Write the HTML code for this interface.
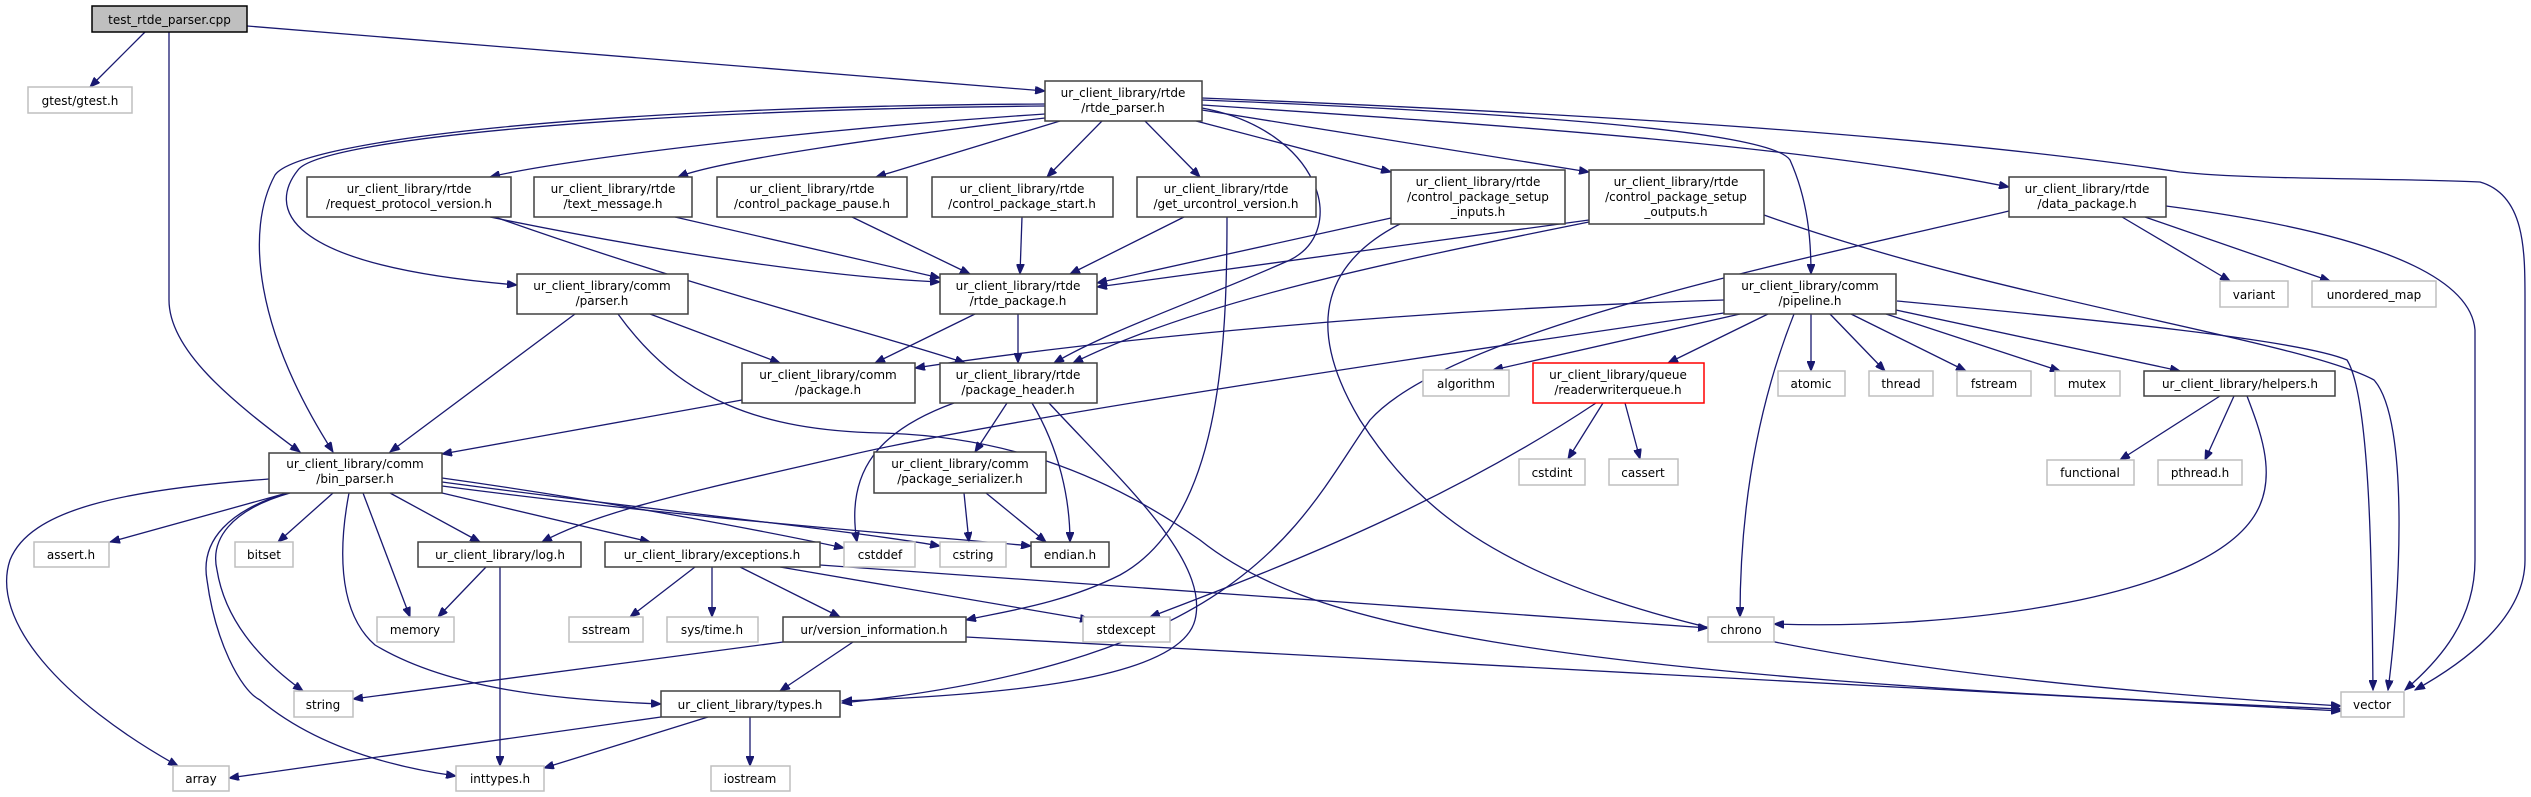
<!DOCTYPE html>
<html><head><meta charset="utf-8"><style>
html,body{margin:0;padding:0;background:#fff;}
svg{display:block;}
text{font-family:"DejaVu Sans","Liberation Sans",sans-serif;font-size:12px;fill:#000;text-anchor:middle;}
.e{fill:none;stroke:#191970;stroke-width:1.3;marker-end:url(#a);}
.b{fill:#fff;stroke:#404040;stroke-width:1.5;}
.g{fill:#fff;stroke:#bfbfbf;stroke-width:1.5;}
</style></head><body>
<svg width="2531" height="797" viewBox="0 0 2531 797" xmlns="http://www.w3.org/2000/svg">
<defs><marker id="a" markerWidth="11" markerHeight="8" refX="10" refY="4" orient="auto" markerUnits="userSpaceOnUse"><path d="M0,0 L10,4 L0,8 z" fill="#191970" stroke="#191970"/></marker></defs>
<g>
<path class="e" d="M145,32 L90,87"/>
<path class="e" d="M247,26 L1045,91"/>
<path class="e" d="M169,32 L169,300 C169,350 230,400 300,452"/>
<path class="e" d="M1045,104 C600,106 300,140 275,175 C245,230 255,330 333,452"/>
<path class="e" d="M1045,106 C620,110 320,140 298,170 C270,205 275,265 517,285"/>
<path class="e" d="M1045,114 C800,130 560,160 490,177"/>
<path class="e" d="M1045,118 C900,135 720,160 678,177"/>
<path class="e" d="M1060,121 L876,177"/>
<path class="e" d="M1102,121 L1047,177"/>
<path class="e" d="M1145,121 L1200,177"/>
<path class="e" d="M1196,121 L1391,172"/>
<path class="e" d="M1202,110 L1589,172"/>
<path class="e" d="M1202,105 C1500,125 1800,145 2009,187"/>
<path class="e" d="M1202,100 C1500,112 1770,130 1790,160 C1808,200 1811,240 1811,274"/>
<path class="e" d="M1202,98 C1500,110 1900,130 2180,172 C2250,180 2400,178 2480,182 C2525,195 2525,250 2525,300 L2525,560 C2525,620 2460,665 2415,690"/>
<path class="e" d="M1202,108 C1320,130 1350,230 1290,260 C1200,300 1110,330 1054,363"/>
<path class="e" d="M490,217 C700,260 850,278 940,282"/>
<path class="e" d="M495,217 C700,290 900,340 965,363"/>
<path class="e" d="M675,217 L940,278"/>
<path class="e" d="M852,217 L970,274"/>
<path class="e" d="M1022,217 L1020,274"/>
<path class="e" d="M1184,217 L1070,274"/>
<path class="e" d="M1227,217 C1227,350 1220,520 1120,575 C1060,605 1000,612 966,620"/>
<path class="e" d="M1391,218 L1097,283"/>
<path class="e" d="M1400,224 C1330,260 1300,320 1360,420 C1450,560 1600,660 2341,706"/>
<path class="e" d="M1589,220 L1097,287"/>
<path class="e" d="M1589,222 C1400,260 1200,300 1073,363"/>
<path class="e" d="M1764,215 C2000,300 2300,340 2374,380 C2410,420 2400,600 2388,690"/>
<path class="e" d="M1897,301 C2100,320 2300,340 2347,360 C2372,400 2372,600 2373,690"/>
<path class="e" d="M2122,217 L2230,281"/>
<path class="e" d="M2145,217 L2330,281"/>
<path class="e" d="M2166,206 C2350,230 2470,270 2475,330 L2475,560 C2475,620 2440,660 2405,690"/>
<path class="e" d="M2009,211 C1800,260 1450,330 1370,420 C1300,520 1250,660 842,703"/>
<path class="e" d="M650,314 L780,363"/>
<path class="e" d="M575,314 L390,452"/>
<path class="e" d="M618,314 C680,400 760,430 880,433 C1000,436 1100,470 1200,540 C1300,620 1500,675 2341,709"/>
<path class="e" d="M975,314 L875,363"/>
<path class="e" d="M1018,314 L1018,363"/>
<path class="e" d="M742,400 L442,454"/>
<path class="e" d="M1007,403 L975,452"/>
<path class="e" d="M954,403 C880,430 845,470 857,542"/>
<path class="e" d="M1032,403 C1060,450 1070,500 1070,542"/>
<path class="e" d="M1049,403 C1120,480 1210,560 1195,620 C1180,680 1000,695 842,701"/>
<path class="e" d="M964,493 L969,542"/>
<path class="e" d="M986,493 L1046,542"/>
<path class="e" d="M1724,300 C1400,310 1100,340 915,368"/>
<path class="e" d="M1724,313 C1400,360 1000,420 850,455 C700,490 600,510 542,542"/>
<path class="e" d="M1740,314 L1493,370"/>
<path class="e" d="M1768,314 L1668,363"/>
<path class="e" d="M1794,314 C1760,400 1740,500 1740,617"/>
<path class="e" d="M1811,314 L1811,371"/>
<path class="e" d="M1830,314 L1885,371"/>
<path class="e" d="M1851,314 L1966,371"/>
<path class="e" d="M1886,314 L2060,371"/>
<path class="e" d="M1896,310 L2180,371"/>
<path class="e" d="M1603,403 L1568,459"/>
<path class="e" d="M1625,403 L1640,459"/>
<path class="e" d="M1596,403 C1450,500 1300,560 1150,617"/>
<path class="e" d="M2220,396 L2120,460"/>
<path class="e" d="M2234,396 L2205,460"/>
<path class="e" d="M2247,396 C2260,430 2275,470 2260,505 C2220,600 1950,630 1774,624"/>
<path class="e" d="M287,493 L110,542"/>
<path class="e" d="M333,493 L278,542"/>
<path class="e" d="M390,493 L480,542"/>
<path class="e" d="M442,493 L650,542"/>
<path class="e" d="M363,493 L410,617"/>
<path class="e" d="M290,493 C230,510 210,540 217,570 C225,620 260,660 303,691"/>
<path class="e" d="M269,479 C120,490 30,510 10,560 C-10,620 60,700 178,766"/>
<path class="e" d="M287,493 C230,510 200,540 207,580 C215,640 240,690 260,700 C320,750 400,768 456,776"/>
<path class="e" d="M349,493 C340,540 335,610 375,645 C450,690 560,700 661,704"/>
<path class="e" d="M442,478 C600,500 760,530 844,548"/>
<path class="e" d="M442,482 C650,510 850,530 940,546"/>
<path class="e" d="M442,486 C700,520 950,538 1031,546"/>
<path class="e" d="M486,567 L438,617"/>
<path class="e" d="M500,567 L500,766"/>
<path class="e" d="M695,567 L630,617"/>
<path class="e" d="M712,567 L712,617"/>
<path class="e" d="M740,567 L840,617"/>
<path class="e" d="M780,567 L1090,620"/>
<path class="e" d="M820,565 L1708,628"/>
<path class="e" d="M783,642 L353,699"/>
<path class="e" d="M853,642 L780,691"/>
<path class="e" d="M966,637 L2341,711"/>
<path class="e" d="M661,717 L229,778"/>
<path class="e" d="M708,717 L544,768"/>
<path class="e" d="M750,717 L750,766"/>
</g>
<g>
<rect x="92" y="6" width="155" height="26" fill="#bfbfbf" stroke="#000" stroke-width="1.5"/><text x="169.5" y="24">test_rtde_parser.cpp</text>
<rect class="g" x="28" y="87" width="104" height="26"/><text x="80" y="105">gtest/gtest.h</text>
<rect class="b" x="1045" y="81" width="157" height="40"/><text x="1123" y="97">ur_client_library/rtde</text><text x="1123" y="112">/rtde_parser.h</text>
<rect class="b" x="307" y="177" width="204" height="40"/><text x="409" y="193">ur_client_library/rtde</text><text x="409" y="208">/request_protocol_version.h</text>
<rect class="b" x="534" y="177" width="158" height="40"/><text x="613" y="193">ur_client_library/rtde</text><text x="613" y="208">/text_message.h</text>
<rect class="b" x="717" y="177" width="190" height="40"/><text x="812" y="193">ur_client_library/rtde</text><text x="812" y="208">/control_package_pause.h</text>
<rect class="b" x="932" y="177" width="181" height="40"/><text x="1022" y="193">ur_client_library/rtde</text><text x="1022" y="208">/control_package_start.h</text>
<rect class="b" x="1137" y="177" width="179" height="40"/><text x="1226" y="193">ur_client_library/rtde</text><text x="1226" y="208">/get_urcontrol_version.h</text>
<rect class="b" x="1391" y="170" width="174" height="54"/><text x="1478" y="186">ur_client_library/rtde</text><text x="1478" y="201">/control_package_setup</text><text x="1478" y="216">_inputs.h</text>
<rect class="b" x="1589" y="170" width="175" height="54"/><text x="1676" y="186">ur_client_library/rtde</text><text x="1676" y="201">/control_package_setup</text><text x="1676" y="216">_outputs.h</text>
<rect class="b" x="2009" y="177" width="157" height="40"/><text x="2087" y="193">ur_client_library/rtde</text><text x="2087" y="208">/data_package.h</text>
<rect class="b" x="517" y="274" width="171" height="40"/><text x="602" y="290">ur_client_library/comm</text><text x="602" y="305">/parser.h</text>
<rect class="b" x="940" y="274" width="157" height="40"/><text x="1018" y="290">ur_client_library/rtde</text><text x="1018" y="305">/rtde_package.h</text>
<rect class="b" x="1724" y="274" width="172" height="40"/><text x="1810" y="290">ur_client_library/comm</text><text x="1810" y="305">/pipeline.h</text>
<rect class="g" x="2220" y="281" width="68" height="26"/><text x="2254" y="299">variant</text>
<rect class="g" x="2312" y="281" width="124" height="26"/><text x="2374" y="299">unordered_map</text>
<rect class="b" x="742" y="363" width="173" height="40"/><text x="828" y="379">ur_client_library/comm</text><text x="828" y="394">/package.h</text>
<rect class="b" x="940" y="363" width="157" height="40"/><text x="1018" y="379">ur_client_library/rtde</text><text x="1018" y="394">/package_header.h</text>
<rect class="g" x="1423" y="370" width="86" height="26"/><text x="1466" y="388">algorithm</text>
<rect x="1533" y="363" width="171" height="40" fill="#fff" stroke="#ff0000" stroke-width="1.5"/><text x="1618" y="379">ur_client_library/queue</text><text x="1618" y="394">/readerwriterqueue.h</text>
<rect class="g" x="1778" y="371" width="67" height="25"/><text x="1811" y="388">atomic</text>
<rect class="g" x="1869" y="371" width="64" height="25"/><text x="1901" y="388">thread</text>
<rect class="g" x="1957" y="371" width="74" height="25"/><text x="1994" y="388">fstream</text>
<rect class="g" x="2055" y="371" width="65" height="25"/><text x="2087" y="388">mutex</text>
<rect class="b" x="2144" y="371" width="191" height="25"/><text x="2240" y="388">ur_client_library/helpers.h</text>
<rect class="b" x="269" y="453" width="173" height="40"/><text x="355" y="468">ur_client_library/comm</text><text x="355" y="483">/bin_parser.h</text>
<rect class="b" x="874" y="452" width="172" height="41"/><text x="960" y="468">ur_client_library/comm</text><text x="960" y="483">/package_serializer.h</text>
<rect class="g" x="1519" y="459" width="66" height="26"/><text x="1552" y="477">cstdint</text>
<rect class="g" x="1609" y="459" width="69" height="26"/><text x="1643" y="477">cassert</text>
<rect class="g" x="2047" y="460" width="87" height="25"/><text x="2090" y="477">functional</text>
<rect class="g" x="2158" y="460" width="84" height="25"/><text x="2200" y="477">pthread.h</text>
<rect class="g" x="34" y="542" width="75" height="25"/><text x="71" y="559">assert.h</text>
<rect class="g" x="235" y="542" width="58" height="25"/><text x="264" y="559">bitset</text>
<rect class="b" x="418" y="542" width="163" height="25"/><text x="500" y="559">ur_client_library/log.h</text>
<rect class="b" x="605" y="542" width="215" height="25"/><text x="712" y="559">ur_client_library/exceptions.h</text>
<rect class="g" x="844" y="542" width="71" height="25"/><text x="880" y="559">cstddef</text>
<rect class="g" x="940" y="542" width="66" height="25"/><text x="973" y="559">cstring</text>
<rect class="b" x="1031" y="542" width="78" height="25"/><text x="1070" y="559">endian.h</text>
<rect class="g" x="377" y="617" width="77" height="25"/><text x="415" y="634">memory</text>
<rect class="g" x="569" y="617" width="74" height="25"/><text x="606" y="634">sstream</text>
<rect class="g" x="667" y="617" width="91" height="25"/><text x="712" y="634">sys/time.h</text>
<rect class="b" x="783" y="617" width="183" height="25"/><text x="874" y="634">ur/version_information.h</text>
<rect class="g" x="1083" y="617" width="87" height="25"/><text x="1126" y="634">stdexcept</text>
<rect class="g" x="1708" y="617" width="66" height="25"/><text x="1741" y="634">chrono</text>
<rect class="g" x="294" y="691" width="59" height="26"/><text x="323" y="709">string</text>
<rect class="b" x="661" y="691" width="179" height="26"/><text x="750" y="709">ur_client_library/types.h</text>
<rect class="g" x="2341" y="692" width="63" height="25"/><text x="2372" y="709">vector</text>
<rect class="g" x="173" y="766" width="56" height="25"/><text x="201" y="783">array</text>
<rect class="g" x="456" y="766" width="88" height="25"/><text x="500" y="783">inttypes.h</text>
<rect class="g" x="711" y="766" width="79" height="25"/><text x="750" y="783">iostream</text>
</g>
</svg>
</body></html>
